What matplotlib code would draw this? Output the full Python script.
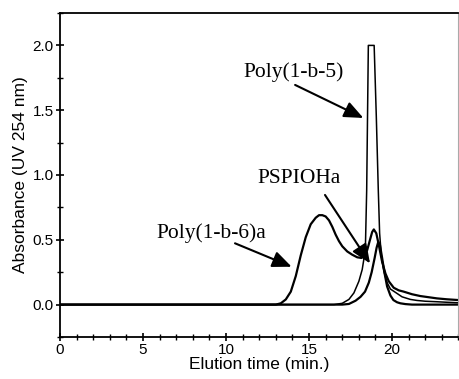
import matplotlib
matplotlib.use("Agg")
import matplotlib.pyplot as plt
from matplotlib.ticker import MultipleLocator

# ---- data ----
t_b6a = [0, 13.0, 13.3, 13.6, 13.9, 14.2, 14.5, 14.8, 15.1, 15.4, 15.6, 15.8, 16.0, 16.2,
         16.4, 16.6, 16.8, 17.0, 17.3, 17.6, 17.9, 18.15, 18.35, 18.5, 18.67, 18.8, 18.9,
         19.05, 19.2, 19.4, 19.6, 19.8, 20.1, 20.4, 20.7, 21.2, 21.7, 22.2, 22.7, 23.3, 24]
a_b6a = [0, 0, 0.01, 0.04, 0.10, 0.22, 0.38, 0.52, 0.62, 0.67, 0.69, 0.69, 0.68, 0.65,
         0.60, 0.54, 0.49, 0.45, 0.41, 0.385, 0.365, 0.36, 0.385, 0.42, 0.50, 0.56, 0.58,
         0.55, 0.46, 0.33, 0.24, 0.18, 0.13, 0.11, 0.10, 0.08, 0.066, 0.057, 0.048, 0.041, 0.035]

t_b5 = [0, 16.5, 17.0, 17.4, 17.7, 18.0, 18.2, 18.3, 18.4, 18.47, 18.57, 18.92, 19.05, 19.17,
        19.25, 19.35, 19.5, 19.7, 19.9, 20.3, 20.6, 21.1, 21.5, 22.0, 22.7, 23.3, 24]
a_b5 = [0, 0, 0.01, 0.04, 0.09, 0.18, 0.27, 0.35, 0.48, 0.88, 2.0, 2.0, 1.45, 0.88,
        0.55, 0.38, 0.26, 0.17, 0.12, 0.086, 0.06, 0.04, 0.032, 0.026, 0.022, 0.018, 0.014]

t_ps = [0, 17.0, 17.4, 17.8, 18.1, 18.37, 18.6, 18.77, 18.95, 19.07, 19.17, 19.27, 19.4,
        19.55, 19.7, 19.9, 20.08, 20.3, 20.5, 20.8, 21.2, 24]
a_ps = [0, 0, 0.005, 0.03, 0.06, 0.10, 0.17, 0.25, 0.36, 0.44, 0.485, 0.46, 0.36,
        0.24, 0.14, 0.07, 0.035, 0.018, 0.01, 0.004, 0, 0]

labels = ["Poly(1-b-5)", "PSPIOHa", "Poly(1-b-6)a"]
label_xy = [(14.1, 1.79), (14.4, 0.97), (9.1, 0.55)]
arrow_start = [(14.16, 1.695), (15.96, 0.846), (10.54, 0.473)]
arrow_tip = [(18.27, 1.44), (18.67, 0.318), (13.95, 0.292)]

xlabel = "Elution time (min.)"
ylabel = "Absorbance (UV 254 nm)"

# ---- figure ----
fig = plt.figure(figsize=(4.59, 3.79), dpi=100)
ax = fig.add_axes([60 / 459, 1 - 337 / 379, 398.5 / 459, 324 / 379])

ax.plot(t_b6a, a_b6a, color="black", lw=1.6)
ax.plot(t_ps, a_ps, color="black", lw=1.6)
ax.plot(t_b5, a_b5, color="black", lw=1.1)

ax.set_xlim(0, 24)
ax.set_ylim(-0.25, 2.25)
ax.xaxis.set_major_locator(MultipleLocator(5))
ax.xaxis.set_minor_locator(MultipleLocator(1))
ax.yaxis.set_major_locator(MultipleLocator(0.5))
ax.yaxis.set_minor_locator(MultipleLocator(0.25))
ax.yaxis.set_major_formatter(matplotlib.ticker.FormatStrFormatter("%.1f"))

for side in ["left", "bottom", "top"]:
    ax.spines[side].set_linewidth(1.3)
    ax.spines[side].set_color("black")
ax.spines["right"].set_linewidth(0.8)
ax.spines["right"].set_color("#aaaaaa")

ax.tick_params(which="major", direction="inout", length=6, width=1.2,
               labelsize=11, top=False, right=False, pad=1.5)
ax.tick_params(which="minor", direction="inout", length=4, width=1.0,
               top=False, right=False)
for lab in ax.get_xticklabels() + ax.get_yticklabels():
    lab.set_family("Liberation Sans")

ax.set_xlabel(xlabel, fontsize=12.5, family="Liberation Sans", labelpad=0)
ax.set_ylabel(ylabel, fontsize=12.5, family="Liberation Sans", labelpad=3)

for lab, xy, s, tip in zip(labels, label_xy, arrow_start, arrow_tip):
    ax.text(xy[0], xy[1], lab, ha="center", va="center", fontsize=15.5,
            family="Liberation Serif")
    ax.annotate("", xy=tip, xytext=s,
                arrowprops=dict(arrowstyle="-|>,head_length=0.75,head_width=0.32",
                                lw=1.5, color="black", shrinkA=0, shrinkB=0),
                fontsize=15.5)

fig.savefig("out.png", dpi=100)
